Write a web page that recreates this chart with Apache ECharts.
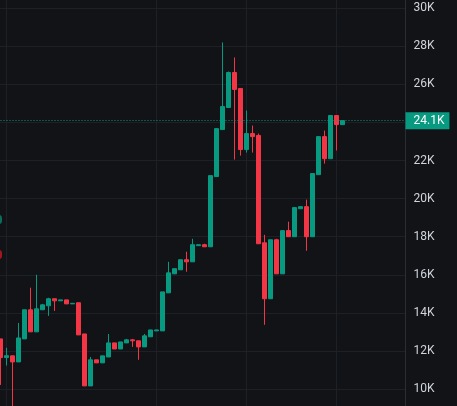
<!DOCTYPE html>
<html>
<head>
<meta charset="utf-8">
<script src="https://cdn.jsdelivr.net/npm/echarts@6/dist/echarts.min.js"></script>
<style>
  html, body { margin: 0; padding: 0; background: #121317; }
  #chart { width: 457px; height: 406px; }
</style>
</head>
<body>
<div id="chart"></div>
<script>
// prices in thousands, one entry per candle (left to right)
var openPrices = [12.63, 11.65, 11.74, 11.42, 12.63, 14.16, 13.0, 14.16, 14.37, 14.74,
  14.63, 14.68, 14.47, 14.53, 12.89, 10.16, 11.53, 11.37, 11.68, 12.42,
  12.1, 12.42, 12.58, 12.53, 12.21, 12.74, 13.05, 13.05, 15.05, 16.05,
  16.26, 16.79, 16.68, 17.53, 17.58, 17.47, 21.16, 23.63, 24.79, 26.63,
  25.79, 22.58, 23.42, 23.32, 17.68, 14.74, 17.84, 16.05, 18.32, 18.0,
  19.47, 19.58, 18.0, 21.26, 23.26, 22.1, 24.37, 23.89]
var closePrices = [11.65, 11.75, 11.42, 12.68, 14.16, 13.0, 14.21, 14.42, 14.74, 14.63,
  14.68, 14.47, 14.5, 12.84, 10.16, 11.53, 11.37, 11.74, 12.42, 12.1,
  12.47, 12.58, 12.53, 12.21, 12.79, 13.1, 13.1, 15.1, 16.1, 16.32,
  16.79, 16.68, 17.58, 17.58, 17.47, 21.21, 23.68, 24.84, 26.63, 25.74,
  22.58, 23.42, 23.26, 17.63, 14.74, 17.84, 16.05, 18.32, 18.0, 19.53,
  19.58, 18.0, 21.32, 23.26, 22.1, 24.37, 23.89, 24.1]
var lowPrices = [10.21, 11.23, 8.9, 11.42, 12.63, 13.0, 13.0, 14.16, 13.84, 14.1,
  14.63, 14.47, 14.47, 12.84, 10.16, 10.16, 11.37, 11.37, 11.68, 12.1,
  12.1, 12.42, 12.21, 11.53, 12.21, 12.74, 13.05, 13.05, 15.05, 16.05,
  16.26, 16.16, 16.68, 17.53, 17.47, 17.47, 21.16, 23.63, 24.79, 22.05,
  22.26, 22.42, 22.42, 17.63, 13.37, 14.74, 16.05, 16.05, 18.0, 18.0,
  19.47, 17.26, 18.0, 21.26, 21.84, 22.1, 22.53, 23.89]
var highPrices = [12.63, 12.16, 11.76, 13.47, 14.16, 15.32, 16.0, 14.47, 14.79, 14.74,
  14.68, 14.68, 14.5, 14.53, 12.89, 11.68, 11.53, 11.74, 12.89, 12.42,
  12.47, 12.63, 12.63, 12.53, 12.89, 13.1, 13.1, 15.1, 16.68, 16.32,
  16.79, 17.21, 17.89, 17.58, 17.63, 21.21, 23.68, 28.21, 26.68, 27.42,
  25.79, 24.63, 23.84, 23.42, 18.1, 17.84, 17.89, 18.32, 18.79, 19.53,
  19.58, 19.95, 21.32, 23.26, 23.58, 24.37, 24.37, 24.1]
var emptySlots = 10          // blank bars to the right of the last candle
var gridMarks = [1, 26, 41, 56] // candles that carry a vertical grid line
var lastPrice = 24.1

var upColor = '#089981'
var downColor = '#f23645'

var categories = []
var candles = []
for (var i = 0; i < openPrices.length + emptySlots; i++) {
  categories.push(String(i))
}
for (var j = 0; j < openPrices.length; j++) {
  candles.push([openPrices[j] * 1000, closePrices[j] * 1000, lowPrices[j] * 1000, highPrices[j] * 1000])
}

var chart = echarts.init(document.getElementById('chart'))
chart.setOption({
  backgroundColor: '#121317',
  animation: false,
  grid: {
    left: -2.5,
    right: 51.5,
    top: -29.7,
    bottom: -21,
    containLabel: false,
    outerBoundsMode: 'none'
  },
  xAxis: {
    type: 'category',
    data: categories,
    boundaryGap: true,
    axisLine: { show: false },
    axisTick: { show: false },
    axisLabel: { show: false },
    splitLine: {
      show: true,
      alignWithLabel: true,
      interval: function(index) {
        return gridMarks.indexOf(index) >= 0
      },
      lineStyle: { color: '#1e2027', width: 1 }
    }
  },
  yAxis: {
    type: 'value',
    position: 'right',
    min: 8000,
    max: 32000,
    interval: 2000,
    axisLine: { show: true, lineStyle: { color: '#2a2d35' } },
    axisTick: { show: false },
    axisLabel: {
      color: '#d1d4dc',
      fontFamily: 'Roboto',
      fontSize: 12,
      margin: 8,
      formatter: function(v) {
        return (v / 1000) + 'K'
      }
    },
    splitLine: { lineStyle: { color: '#1e2027', width: 1 } }
  },
  series: [{
    type: 'candlestick',
    data: candles,
    barWidth: 4,
    clip: false,
    itemStyle: {
      color: upColor,
      color0: downColor,
      borderColor: upColor,
      borderColor0: downColor,
      borderWidth: 1
    },
    markLine: {
      silent: true,
      symbol: 'none',
      animation: false,
      lineStyle: { color: upColor, type: [1, 2], width: 1 },
      label: {
        position: 'end',
        distance: 0,
        formatter: lastPrice + 'K',
        color: '#ffffff',
        fontFamily: 'Roboto',
        fontSize: 12,
        backgroundColor: upColor,
        padding: [3, 5, 2, 8]
      },
      data: [{ yAxis: lastPrice * 1000 }]
    }
  }],
  graphic: [
    { type: 'rect', left: -8, top: 215, shape: { width: 10, height: 9, r: 3 }, style: { fill: '#0b6e5c' } },
    { type: 'rect', left: -8, top: 250, shape: { width: 10, height: 9, r: 3 }, style: { fill: '#a3161f' } },
    { type: 'rect', left: 455, top: 206, shape: { width: 10, height: 31, r: 3 }, style: { fill: 'none', stroke: '#2a2d35', lineWidth: 1 } }
  ]
})
</script>
</body>
</html>
